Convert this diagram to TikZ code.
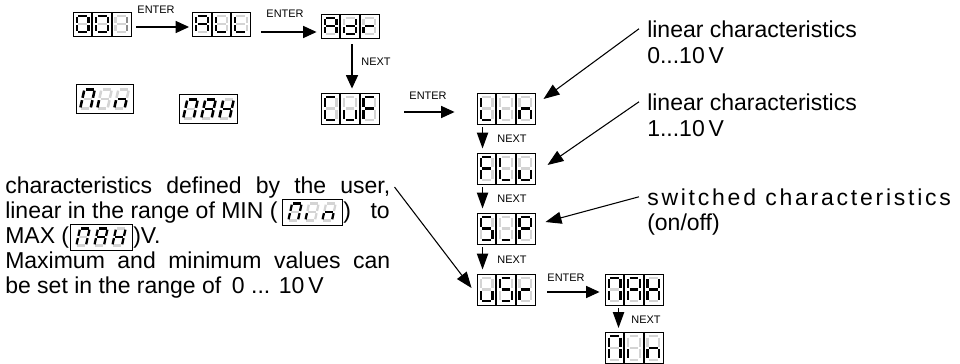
\documentclass[tikz,border=0pt]{standalone}
\usepackage{fontspec}
\setmainfont{Liberation Sans}
\usetikzlibrary{arrows.meta}
\newcommand\sgW{5.8}
\newcommand\sgH{11.8}
\newcommand\sgG{1.4}
\newcommand\dispH{31}
% seven segments a b c d e f g (styles)
\newcommand\sdig[7]{%
 \draw[#1] ({-\sgW+\sgG},{-\sgH}) -- ({\sgW-\sgG},{-\sgH});
 \draw[#2] ({\sgW},{-\sgH+\sgG}) -- ({\sgW},{-\sgG});
 \draw[#3] ({\sgW},{\sgG}) -- ({\sgW},{\sgH-\sgG});
 \draw[#4] ({-\sgW+\sgG},{\sgH}) -- ({\sgW-\sgG},{\sgH});
 \draw[#5] ({-\sgW},{\sgG}) -- ({-\sgW},{\sgH-\sgG});
 \draw[#6] ({-\sgW},{-\sgH+\sgG}) -- ({-\sgW},{-\sgG});
 \draw[#7] ({-\sgW+\sgG},0) -- ({\sgW-\sgG},0);}
\newcommand\ssZero{\sdig{sgon}{sgon}{sgon}{sgon}{sgon}{sgon}{sgoff}}
\newcommand\ssOneDim{\sdig{sgoff}{sgmid}{sgmid}{sgoff}{sgoff}{sgoff}{sgoff}}
\newcommand\ssA{\sdig{sgon}{sgon}{sgon}{sgoff}{sgon}{sgon}{sgon}}
\newcommand\ssL{\sdig{sgoff}{sgoff}{sgoff}{sgon}{sgon}{sgon}{sgoff}}
\newcommand\ssDd{\sdig{sgoff}{sgon}{sgon}{sgon}{sgon}{sgoff}{sgon}}
\newcommand\ssRr{\sdig{sgoff}{sgoff}{sgoff}{sgoff}{sgon}{sgoff}{sgon}}
\newcommand\ssC{\sdig{sgon}{sgoff}{sgoff}{sgon}{sgon}{sgon}{sgoff}}
\newcommand\ssUu{\sdig{sgoff}{sgoff}{sgon}{sgon}{sgon}{sgoff}{sgoff}}
\newcommand\ssF{\sdig{sgon}{sgoff}{sgoff}{sgoff}{sgon}{sgon}{sgon}}
\newcommand\ssIi{\sdig{sgoff}{sgoff}{sgoff}{sgoff}{sgon}{sgoff}{sgoff}}
\newcommand\ssNn{\sdig{sgoff}{sgoff}{sgon}{sgoff}{sgon}{sgoff}{sgon}}
\newcommand\ssM{\sdig{sgon}{sgon}{sgon}{sgoff}{sgon}{sgon}{sgoff}}
\newcommand\ssH{\sdig{sgoff}{sgon}{sgon}{sgoff}{sgon}{sgon}{sgon}}
\newcommand\ssS{\sdig{sgon}{sgoff}{sgon}{sgon}{sgoff}{sgon}{sgon}}
\newcommand\ssUnd{\sdig{sgoff}{sgoff}{sgoff}{sgon}{sgoff}{sgoff}{sgoff}}
\newcommand\ssP{\sdig{sgon}{sgon}{sgoff}{sgoff}{sgon}{sgon}{sgon}}
\tikzset{
 sgon/.style={draw=black,line width=1.6pt},
 sgoff/.style={draw=black!17,line width=1.6pt},
 sgmid/.style={draw=black!45,line width=1.6pt},
 dbox/.style={draw,line width=0.7pt,minimum width=43.5pt,inner sep=0pt},
 dsep/.style={line width=1.3pt},
 ibox/.style={draw,line width=0.7pt,inner sep=0pt},
 earr/.style={line width=0.8pt,-{Triangle[length=10pt,width=9pt]}},
 narr/.style={line width=0.8pt,-{Triangle[length=12pt,width=8.5pt]}},
 larr/.style={line width=0.8pt,-{Triangle[length=12pt,width=9pt]}},
 small/.style={font=\fontsize{8.2}{9}\selectfont,inner sep=0pt},
 lbl/.style={font=\fontsize{17.25}{20}\selectfont,inner sep=0pt,anchor=base west},
 ptxt/.style={font=\fontsize{17.25}{20}\selectfont,inner sep=0pt}
}
\newcommand\dispthree[6]{%
 \node[dbox,minimum height={\dispH*0.75pt}] (#1) at (#2,#3) {};
 \begin{scope}[shift={(#1.center)}]
  \draw[dsep] (-9.67,{-\dispH/2}) -- (-9.67,{\dispH/2}) (9.67,{-\dispH/2}) -- (9.67,{\dispH/2});
  \begin{scope}[shift={(-19.33,0)}]#4\end{scope}
  \begin{scope}#5\end{scope}
  \begin{scope}[shift={(19.33,0)}]#6\end{scope}
 \end{scope}}
\newcommand\dispital[9]{%
 \node[ibox,minimum width={#4*0.75pt},minimum height={#5*0.75pt}] (#1) at (#2,#3) {};
 \begin{scope}[shift={(#1.center)}]
  \begin{scope}[shift={(-#6,0)},xslant=0.22]#7\end{scope}
  \begin{scope}[xslant=0.22]#8\end{scope}
  \begin{scope}[shift={(#6,0)},xslant=0.22]#9\end{scope}
 \end{scope}}
\begin{document}
\begin{tikzpicture}[x=0.75pt,y=-0.75pt]
\useasboundingbox (0,0) rectangle (960,364);
% top row (squat displays)
\begin{scope}
 \renewcommand\dispH{24}\renewcommand\sgH{8.4}\renewcommand\sgG{1.3}
 \dispthree{d001}{102}{24}{\ssZero}{\ssZero}{\ssOneDim}
 \dispthree{dall}{221.5}{24}{\ssA}{\ssL}{\ssL}
 \dispthree{dadr}{350}{26}{\ssA}{\ssDd}{\ssRr}
\end{scope}
% tall displays
\dispthree{dcuf}{350}{108.5}{\ssC}{\ssUu}{\ssF}
\dispthree{dlin}{506}{108.5}{\ssL}{\ssIi}{\ssNn}
\dispthree{dflu}{506}{168.5}{\ssF}{\ssL}{\ssUu}
\dispthree{dsp}{506}{228.5}{\ssS}{\ssUnd}{\ssP}
\dispthree{dusr}{506}{289.5}{\ssUu}{\ssS}{\ssRr}
\dispthree{dmah}{634}{289.5}{\ssM}{\ssA}{\ssH}
\dispthree{dmin}{634}{348}{\ssM}{\ssIi}{\ssNn}
% italic displays
\begin{scope}
 \renewcommand\sgW{5.2}\renewcommand\sgH{9.6}\renewcommand\sgG{1.2}
 \tikzset{sgon/.style={draw=black,line width=1.9pt},sgoff/.style={draw=black!17,line width=1.9pt}}
 \dispital{smin}{104.5}{99}{57}{29}{17}{\ssM}{\ssIi}{\ssNn}
 \dispital{smax}{208.5}{109}{58}{29}{18}{\ssM}{\ssA}{\ssH}
\end{scope}
\begin{scope}
 \renewcommand\sgW{4.8}\renewcommand\sgH{8.4}\renewcommand\sgG{1.1}
 \tikzset{sgon/.style={draw=black,line width=1.7pt},sgoff/.style={draw=black!17,line width=1.7pt}}
 \dispital{imin}{312}{212}{60}{26}{17}{\ssM}{\ssIi}{\ssNn}
 \dispital{imax}{101}{237}{62}{26}{18}{\ssM}{\ssA}{\ssH}
\end{scope}
% connectors
\draw[earr] ([shift={(5,3)}]d001.east) -- ([shift={(-3,3)}]dall.west);
\draw[earr] ([shift={(10,8)}]dall.east) -- ([shift={(-4,6)}]dadr.west);
\draw[earr] ([shift={(2,6)}]dadr.south) -- ([shift={(2,-4)}]dcuf.north);
\draw[earr] ([shift={(25,3.5)}]dcuf.east) -- ([shift={(-22,3.5)}]dlin.west);
\draw[earr] ([shift={(12,2.5)}]dusr.east) -- ([shift={(-5,2.5)}]dmah.west);
\draw[narr] ([shift={(6,3)}]dlin.south west) -- ([shift={(6,-4)}]dflu.north west);
\draw[narr] ([shift={(6,3)}]dflu.south west) -- ([shift={(6,-4)}]dsp.north west);
\draw[narr] ([shift={(6,3)}]dsp.south west) -- ([shift={(6,-4)}]dusr.north west);
\draw[narr] ([shift={(14,3)}]dmah.south west) -- ([shift={(14,-4)}]dmin.north west);
% small labels
\node[small] (e1) at (156,10) {ENTER};
\node[small] (e2) at (285,14) {ENTER};
\node[small] (n0) at (376,62) {NEXT};
\node[small] (e3) at (428,96) {ENTER};
\node[small] (n1) at (512,139) {NEXT};
\node[small] (n2) at (512,199) {NEXT};
\node[small] (n3) at (512,260) {NEXT};
\node[small] (e4) at (566,278) {ENTER};
\node[small] (n4) at (646,320) {NEXT};
% right labels
\node[lbl] (r1a) at (647,37) {linear characteristics};
\node[lbl] (r1b) at (647,63) {0...10\,V};
\node[lbl] (r2a) at (647,110) {linear characteristics};
\node[lbl] (r2b) at (647,136) {1...10\,V};
\node[lbl] (r3a) at (647,205) {\addfontfeatures{LetterSpace=12}switched\hspace{7pt}characteristics};
\node[lbl] (r3b) at (647,230) {(on/off)};
\draw[larr] ([xshift=-6pt]r1a.west) -- ([shift={(8,-9.5)}]dlin.east);
\draw[larr] ([xshift=-6pt]r2a.west) -- ([shift={(12,-3.5)}]dflu.east);
\draw[larr] ([xshift=-6pt]r3a.west) -- ([shift={(10,-6.5)}]dsp.east);
% paragraph
\node[ptxt,anchor=base west] (p1) at (5,193) {\makebox[288.75pt][s]{characteristics defined by the user,}};
\node[ptxt,anchor=base west] (p2a) at (5,218) {linear in the range of MIN (};
\node[ptxt,anchor=base west] (p2b) at (343,218) {)};
\node[ptxt,anchor=base east] (p2c) at (390,218) {to};
\node[ptxt,anchor=base west] (p3a) at (5,243) {MAX (};
\node[ptxt,anchor=base west] (p3b) at (133,243) {)V.};
\node[ptxt,anchor=base west] (p4) at (5,268) {\makebox[288.75pt][s]{Maximum and minimum values can}};
\node[ptxt,anchor=base west] (p5) at (5,293) {be set in the range of\hspace{8pt}0 ... 10\,V};
\draw[larr] ([xshift=3pt]p1.east) -- ([shift={(-5,-1.5)}]dusr.west);
\end{tikzpicture}
\end{document}
